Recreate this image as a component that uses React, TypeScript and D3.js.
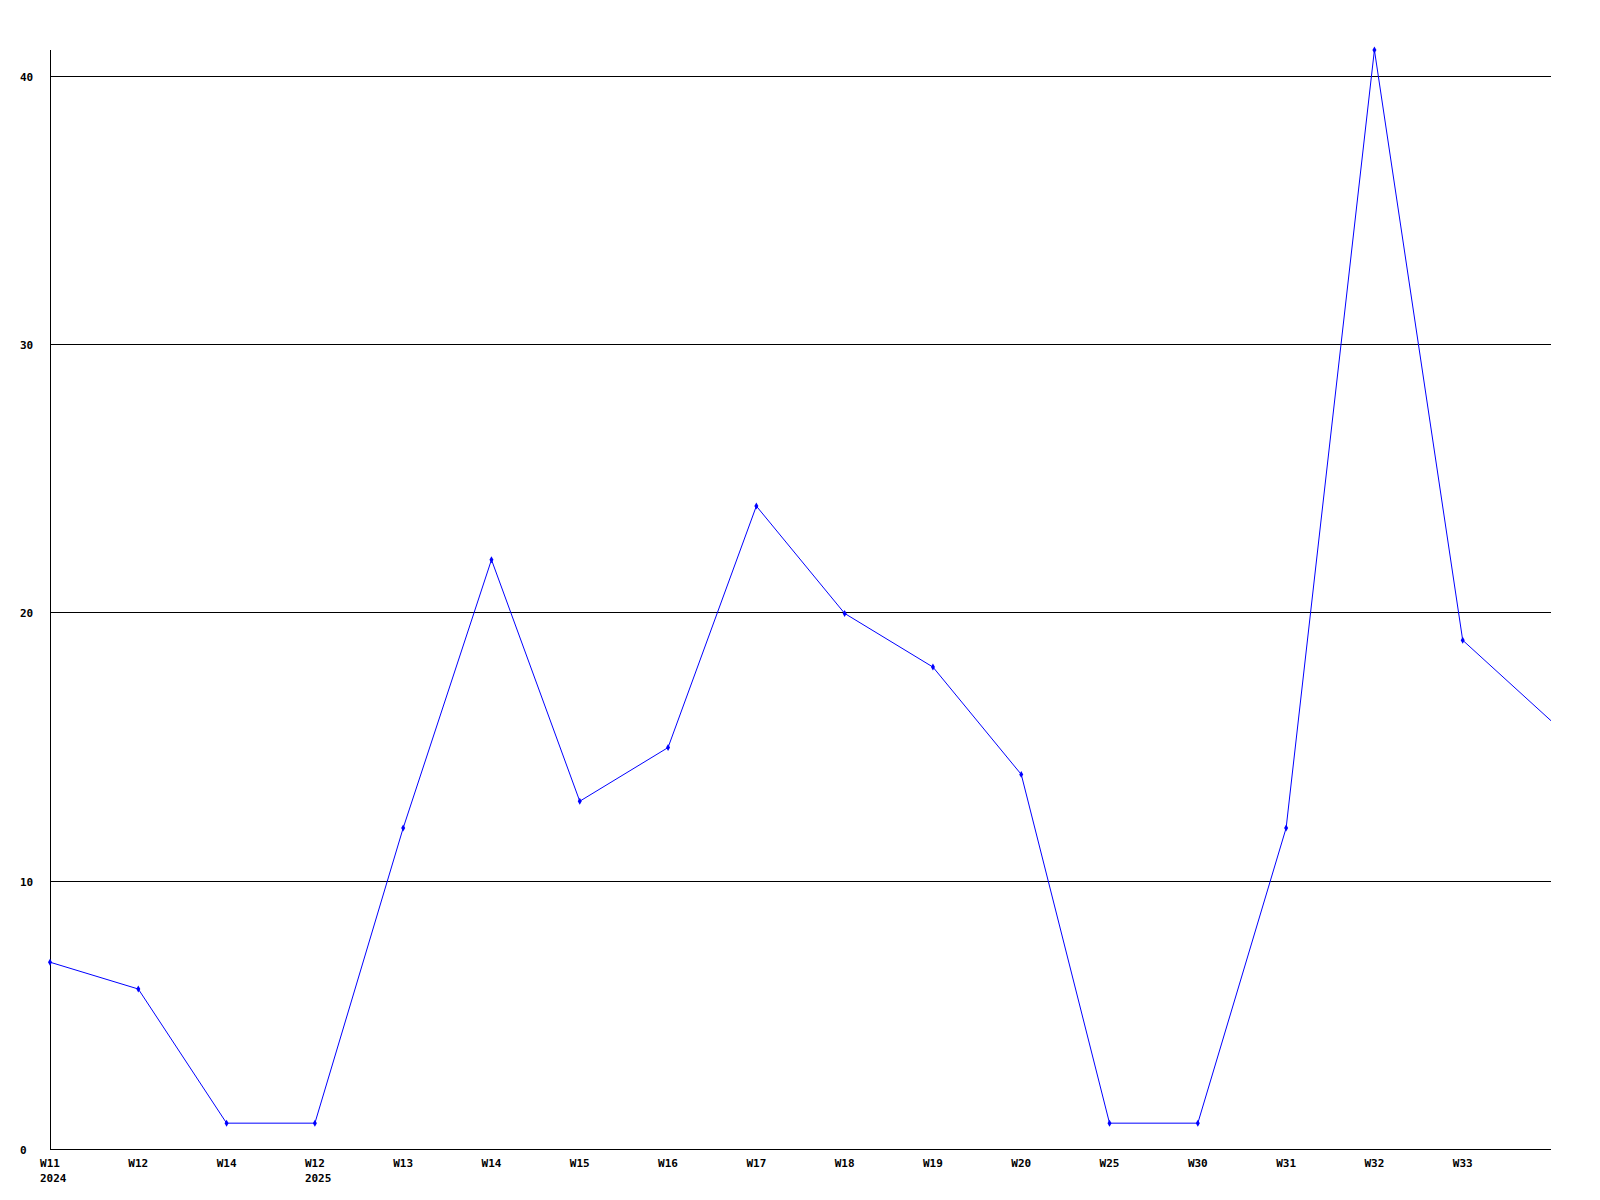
import React from "react";
import * as d3 from "d3";

const weekLabels = ["W11", "W12", "W14", "W12", "W13", "W14", "W15", "W16", "W17", "W18", "W19", "W20", "W25", "W30", "W31", "W32", "W33", ""];
const yearLabels = ["2024", "", "", "2025", "", "", "", "", "", "", "", "", "", "", "", "", "", ""];
const values = [7, 6, 1, 1, 12, 22, 13, 15, 24, 20, 18, 14, 1, 1, 12, 41, 19, 16];
const yTicks = [0, 10, 20, 30, 40];

const W = 1600;
const H = 1200;
const left = 50;
const right = 1551;
const top = 50;
const bottom = 1150;

export default function App() {
  const x = d3.scalePoint<number>().domain(values.map((_, i) => i)).range([left, right]);
  const y = d3.scaleLinear().domain([0, 41]).range([bottom, top]);
  const line = d3
    .line<number>()
    .x((_, i) => x(i)!)
    .y((d) => y(d));
  const font = "'DejaVu Sans Mono', monospace";
  return (
    <svg
      width={W}
      height={H}
      style={{ position: "absolute", left: 0, top: 0, background: "#fff" }}
      shapeRendering="crispEdges"
    >
      <rect x={0} y={0} width={W} height={H} fill="#fff" />
      {yTicks.map((t) => {
        const yy = Math.round(y(t)) - 0.5;
        return (
          <g key={t}>
            {t > 0 && <line x1={left} x2={right} y1={yy} y2={yy} stroke="#000" strokeWidth={1} />}
            <text x={20} y={yy + 4} fontFamily={font} fontSize={11} fontWeight="bold" fill="#000">
              {t}
            </text>
          </g>
        );
      })}
      <line x1={left + 0.5} x2={left + 0.5} y1={top} y2={bottom} stroke="#000" />
      <line x1={left} x2={right} y1={bottom - 0.5} y2={bottom - 0.5} stroke="#000" />
      {weekLabels.map((w, i) => (
        <g key={i}>
          <text x={x(i)!} y={1167} textAnchor="middle" fontFamily={font} fontSize={11} fontWeight="bold" fill="#000">
            {w}
          </text>
          {yearLabels[i] && (
            <text x={x(i)! - 10} y={1182} fontFamily={font} fontSize={11} fontWeight="bold" fill="#000">
              {yearLabels[i]}
            </text>
          )}
        </g>
      ))}
      <path d={line(values)!} fill="none" stroke="#0000ff" strokeWidth={1} shapeRendering="auto" />
      {values.map((v, i) =>
        i < values.length - 1 ? (
          <path
            key={i}
            d={d3.symbol(d3.symbolDiamond, 14)()!}
            transform={`translate(${x(i)},${y(v)})`}
            fill="#0000ff"
            shapeRendering="auto"
          />
        ) : null
      )}
    </svg>
  );
}
